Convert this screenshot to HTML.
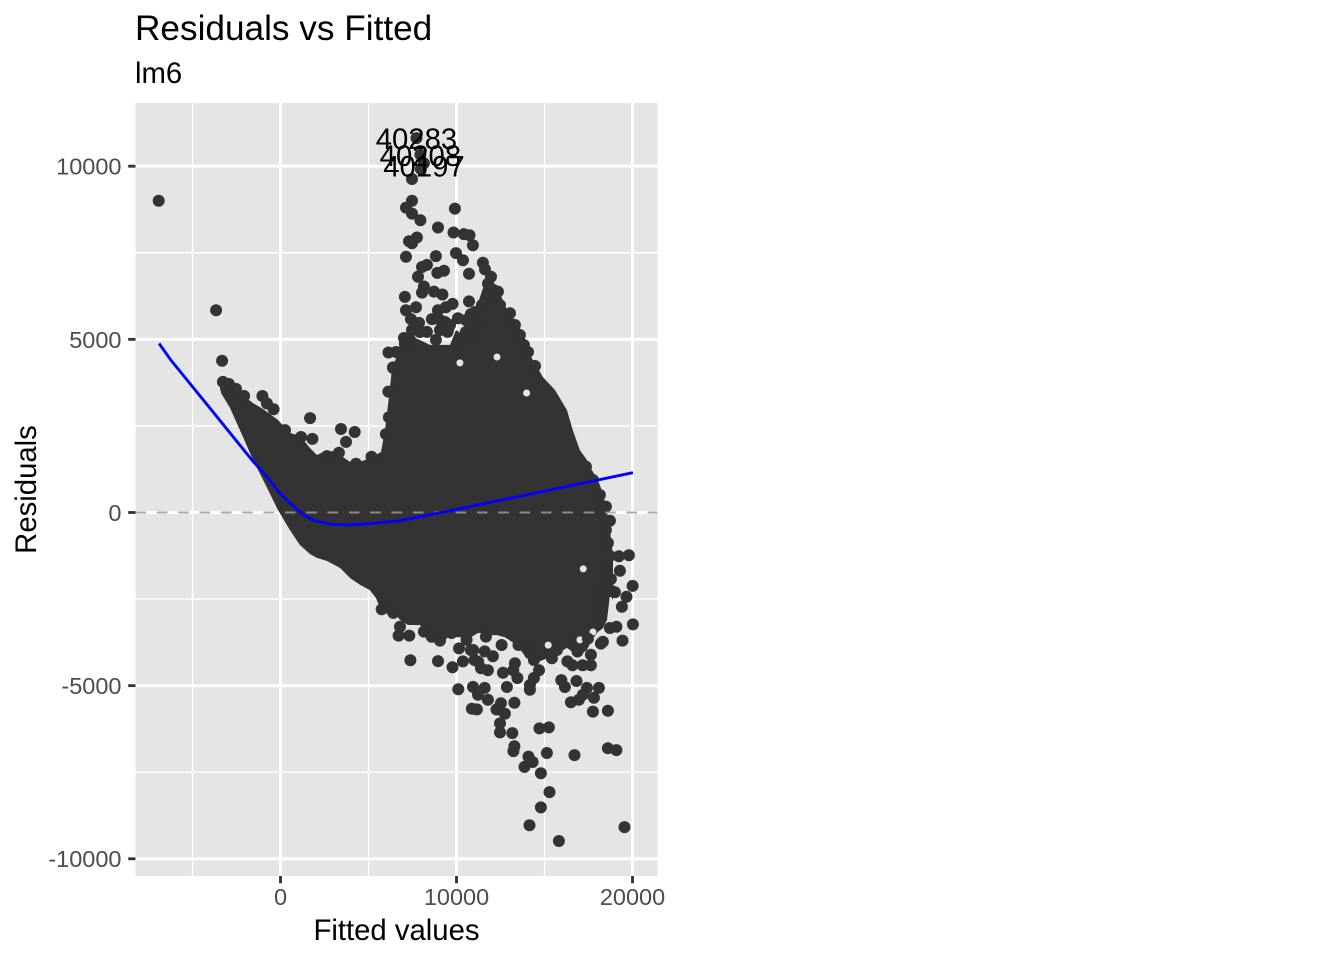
<!DOCTYPE html>
<html>
<head>
<meta charset="utf-8">
<title>Residuals vs Fitted</title>
<style>
html,body{margin:0;padding:0;background:#fff;}
svg{display:block;}
text{font-family:"Liberation Sans",Arial,sans-serif;}
</style>
</head>
<body>
<svg id="chart" width="1344" height="960" viewBox="0 0 1344 960" xmlns="http://www.w3.org/2000/svg">
  <rect x="0" y="0" width="1344" height="960" fill="#ffffff"/>
  <text x="135" y="40" font-size="35.2" fill="#000">Residuals vs Fitted</text>
  <text x="135" y="83" font-size="29.3" fill="#000">lm6</text>
  <rect x="135.5" y="103" width="522" height="773" fill="#e5e5e5"/>
  <g id="grid"></g>
  <g id="ticks"></g>
  <g id="marks"></g>
  <g id="overlays"></g>
  <g id="labels"></g>
  <text x="396.5" y="940" font-size="29.3" text-anchor="middle" fill="#000">Fitted values</text>
  <text x="0" y="0" font-size="29.3" text-anchor="middle" fill="#000" transform="translate(36,489.5) rotate(-90)">Residuals</text>
</svg>
<script>
const xTicks = [0, 10000, 20000];
const xMinorTicks = [-5000, 5000, 15000];
const yTicks = [10000, 5000, 0, -5000, -10000];
const yMinorTicks = [7500, 2500, -2500, -7500];

const cloudFitted = [-3380,-2870,-2130,-1560,-990,-140,540,1110,1680,2070,2640,3380,3950,4520,5080,5420,5710,5940,6110,6330,6560,6790,7240,7920,8490,9060,9630,9970,10370,10760,11220,11560,11900,12300,12750,13430,13770,14000,14170,14510,14910,15590,16270,16610,17010,17410,17690,18030,18320,18550,18720,18890];
const cloudUpper = [3880,3830,3390,3160,2990,2670,2300,2210,1860,1660,1800,1660,1460,1460,1570,1660,1750,2380,3100,4120,4460,4870,5130,4980,4840,4840,4840,5270,5130,5700,6050,6570,6660,6570,5960,5470,5180,4900,4550,4260,3910,3540,2960,2380,1800,1520,1230,940,560,15,-510,-1260];
const cloudLower = [3450,3020,2180,1520,940,70,-510,-940,-1200,-1310,-1400,-1600,-1890,-2090,-2240,-2470,-2820,-2870,-2960,-2960,-2960,-3100,-3250,-3250,-3570,-3830,-3540,-3600,-3600,-3620,-3480,-3480,-3540,-3540,-3600,-3830,-4060,-4200,-4260,-4350,-4260,-4120,-3910,-4030,-4120,-3970,-3680,-3450,-3340,-3100,-2380,-2530];
const cloudGaps = [[17200,-1630],[15210,-3830],[10195,4320],[13985,3450],[17750,-3450],[17010,-3680],[12300,4490]];

const topPoints = [[-6920,9005],[-3660,5840],[-3320,4380],[7725,10810],[7950,10330],[8150,10085],[7980,9915],[7470,9630],[7470,9005],[7130,8805],[7470,8630],[7950,8440],[9910,8775],[8950,8230],[9830,8085],[10420,8040],[10740,8005],[10930,7720],[7750,7940],[7300,7830],[7470,7775],[7130,7385],[8830,7405],[9970,7490],[10370,7285],[11500,7210],[11620,7020],[8320,7150],[8040,7090],[9290,6980],[8910,6920],[7810,6805],[10710,6895],[11960,6805],[11790,6610],[12350,6380],[8150,6525],[8040,6350],[8720,6380],[9200,6295],[7070,6225],[10710,6095],[9780,6025],[13040,5755],[7700,5925],[7130,5840],[8950,5840],[9400,5925],[7410,5585],[8605,5585],[7870,5475],[8320,5215],[9490,5215],[10080,5610],[10820,5730],[8830,4985],[10370,4955],[7360,4985],[7070,4870],[6134,4620],[6390,4190],[14460,4230],[9060,5560],[9630,5415],[10760,5130],[8890,5617],[9345,5500],[9060,5270],[9515,5270],[10535,5560],[11050,5790],[10760,5415],[11220,5415],[10535,5213],[11050,5126],[7470,5270],[7920,5213],[7015,5040],[6560,4635],[12750,5700],[13320,5415],[13605,5126],[13830,4837],[14060,4635],[12470,5990],[11445,5990],[11220,5700]];
const leftPoints = [[-1030,3365],[-770,3150],[-390,2980],[1680,2725],[3440,2410],[4215,2325],[3720,2040],[3320,1725],[1810,2125],[1165,2180],[255,2380],[4290,1410],[5170,1610],[5990,2265],[6160,2750],[6130,3490],[6390,4175],[-3270,3770],[-2925,3710],[-2530,3570],[-2070,3365],[-3095,3595],[2640,1630],[2980,1600]];
const rightPoints = [[19230,-1265],[19795,-1235],[18430,-1635],[19285,-1680],[18770,-1920],[18490,170],[18715,-240],[20005,-2120],[19660,-2435],[19400,-2720],[19000,-2305],[17350,1325],[18150,-2930],[18715,-3335],[17960,-2090],[18150,-2240],[18430,-2240],[18830,-2270],[18030,-2580],[18490,-505],[18600,-880],[18715,-1255],[17750,940],[18150,505]];
const bottomPoints = [[20020,-3230],[19430,-3700],[19085,-3300],[18320,-3730],[7380,-4265],[8950,-4290],[9775,-4470],[10365,-4300],[10105,-5105],[10935,-5035],[11600,-5065],[11220,-5265],[11785,-5410],[12525,-5510],[12275,-5690],[12750,-5810],[13290,-5495],[10875,-5665],[11160,-5685],[12470,-6090],[12470,-6350],[13170,-6370],[14710,-6235],[15250,-6205],[13290,-6750],[13235,-6890],[14090,-7050],[14325,-7205],[13865,-7345],[15135,-6945],[16705,-7005],[18600,-6805],[19085,-6860],[14795,-7530],[15285,-8075],[14795,-8515],[14150,-9030],[15820,-9485],[19545,-9085],[12640,-4625],[13460,-4780],[12865,-5040],[13320,-4355],[13230,-4555],[14685,-4555],[14400,-4780],[14170,-5120],[14170,-4980],[15955,-4840],[16160,-5040],[16820,-4865],[17410,-5065],[18090,-5065],[17805,-5350],[16500,-5480],[16955,-5410],[17180,-5265],[17750,-5750],[18600,-5725],[17635,-4110],[17165,-4410],[17635,-4410],[16590,-4410],[16300,-4300],[16875,-4015],[15420,-4210],[15705,-3970],[14685,-4070],[14400,-4260],[11600,-4010],[12070,-4150],[11785,-4555],[11390,-4495],[11025,-4260],[12560,-3825],[10140,-3925],[10820,-3970],[17465,-3640],[18205,-3785],[6710,-3555],[7320,-3555],[6790,-3300],[8150,-3440],[9060,-3700],[11670,-3585],[13520,-3825],[16385,-3670],[5750,-2795],[6410,-2900],[8590,-3590],[9725,-3480],[10575,-3680],[10950,-3970],[11235,-4310],[14170,-4060]];

const smoothFitted = [-6900,-6250,-4000,-1545,-690,-110,400,850,1300,1810,2755,3720,5250,6790,8150,9290,12560,16390,20020];
const smoothResidual = [4880,4415,3010,1467,988,600,340,130,-60,-217,-332,-360,-312,-236,-100,15,360,765,1150];

const labelTexts = ["40283","40208","40197"];
const labelFitted = [7725,7950,8150];
const labelResidual = [10800,10310,10000];

const NS = "http://www.w3.org/2000/svg";
function xScale(v){ return 280.5 + 0.01760 * v; }
function yScale(v){ return 512.5 - 0.03463 * v; }
const panelLeft = 135.5, panelRight = 657.5, panelTop = 103, panelBottom = 876;

function make(tag, attrs, parent){
  const el = document.createElementNS(NS, tag);
  for (const k in attrs) el.setAttribute(k, attrs[k]);
  parent.appendChild(el);
  return el;
}
const grid = document.getElementById("grid");
const ticks = document.getElementById("ticks");
const marks = document.getElementById("marks");
const overlays = document.getElementById("overlays");
const labels = document.getElementById("labels");

xMinorTicks.forEach(v => {
  const el = make("line", {x1:xScale(v), x2:xScale(v), y1:panelTop, y2:panelBottom, stroke:"#fff", "stroke-width":1.42}, grid);
  
  
});
yMinorTicks.forEach(v => {
  const el = make("line", {x1:panelLeft, x2:panelRight, y1:yScale(v), y2:yScale(v), stroke:"#fff", "stroke-width":1.42}, grid);
  
  
});
xTicks.forEach(v => {
  const g = make("line", {x1:xScale(v), x2:xScale(v), y1:panelTop, y2:panelBottom, stroke:"#fff", "stroke-width":2.84}, grid);
  
  
  const t = make("line", {x1:xScale(v), x2:xScale(v), y1:panelBottom, y2:panelBottom+7.3, stroke:"#333", "stroke-width":2.84}, ticks);
  
  
  const l = make("text", {x:xScale(v), y:905, "font-size":23.5, "text-anchor":"middle", fill:"#4d4d4d"}, ticks);
  
  
  l.textContent = String(v);
});
yTicks.forEach(v => {
  const g = make("line", {x1:panelLeft, x2:panelRight, y1:yScale(v), y2:yScale(v), stroke:"#fff", "stroke-width":2.84}, grid);
  
  
  const t = make("line", {x1:panelLeft-7.3, x2:panelLeft, y1:yScale(v), y2:yScale(v), stroke:"#333", "stroke-width":2.84}, ticks);
  
  
  const l = make("text", {x:121.5, y:yScale(v)+8.4, "font-size":23.5, "text-anchor":"end", fill:"#4d4d4d"}, ticks);
  
  
  l.textContent = String(v);
});

const outline = [];
cloudFitted.forEach((f, i) => outline.push(xScale(f).toFixed(1) + "," + yScale(cloudUpper[i]).toFixed(1)));
for (let i = cloudFitted.length - 1; i >= 0; i--) outline.push(xScale(cloudFitted[i]).toFixed(1) + "," + yScale(cloudLower[i]).toFixed(1));
const cloud = make("polygon", {points:outline.join(" "), fill:"#333333"}, marks);



cloudGaps.forEach(p => {
  const g = make("circle", {cx:xScale(p[0]).toFixed(1), cy:yScale(p[1]).toFixed(1), r:3.5, fill:"#e5e5e5"}, marks);
  
  
});

[topPoints, leftPoints, rightPoints, bottomPoints].forEach(group => {
  group.forEach(p => {
    const c = make("circle", {cx:xScale(p[0]).toFixed(1), cy:yScale(p[1]).toFixed(1), r:6, fill:"#333333"}, marks);
    
    
  });
});

const zeroLine = make("line", {x1:panelLeft, x2:panelRight, y1:yScale(0), y2:yScale(0), stroke:"rgb(155,155,155)", "stroke-opacity":0.84, "stroke-width":2, "stroke-dasharray":"10.67 10.67"}, overlays);



const smoothPts = smoothFitted.map((f, i) => xScale(f).toFixed(1) + "," + yScale(smoothResidual[i]).toFixed(1)).join(" ");
const smooth = make("polyline", {points:smoothPts, fill:"none", stroke:"#0000ff", "stroke-width":2.84, "stroke-linejoin":"round"}, overlays);



labelTexts.forEach((s, i) => {
  const t = make("text", {x:xScale(labelFitted[i]), y:yScale(labelResidual[i]) + 10.5, "font-size":29.3, "text-anchor":"middle", fill:"#000"}, labels);
  
  
  t.textContent = s;
});
</script>
</body>
</html>
